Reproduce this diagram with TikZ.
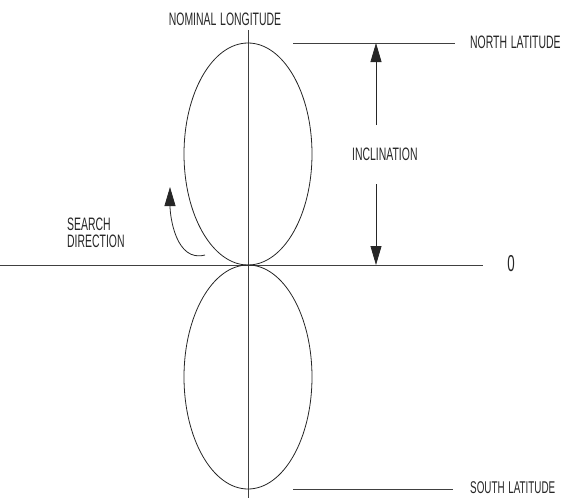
\documentclass[tikz,border=0pt]{standalone}
\usepackage{fontspec}
\setmainfont[FakeStretch=0.58, WordSpace=1.3]{Liberation Sans}
\usetikzlibrary{arrows.meta,positioning}

\begin{document}
\begin{tikzpicture}[
  x=1pt, y=-1pt,
  every node/.style={font=\fontsize{18}{20}\selectfont, text=black!85, inner sep=0pt},
  axis/.style={draw=black!75, line width=0.9pt},
  orbit/.style={draw=black!85, line width=0.8pt},
  dim/.style={draw=black!85, line width=0.8pt, -{Triangle[length=19pt, width=11pt]}}
]
  \useasboundingbox (0,0) rectangle (571,498);

  % Axes
  \coordinate (vtop) at (248,30);
  \coordinate (vbot) at (248,498);
  \coordinate (hleft) at (0,265);
  \coordinate (hright) at (483,265);
  \draw[axis] (vtop) -- (vbot);
  \draw[axis] (hleft) -- (hright);
  \node[font=\fontsize{23}{25}\selectfont] (zero) at (511,264) {0};
  \node (nomlong) at (225,19) {NOMINAL LONGITUDE};

  % Latitude limits
  \coordinate (nl) at (293,43);
  \coordinate (nr) at (455,43);
  \coordinate (sl) at (293,489);
  \coordinate (sr) at (453,489);
  \draw[axis] (nl) -- (nr);
  \draw[axis] (sl) -- (sr);
  \node[anchor=west] (north) at (470,42) {NORTH LATITUDE};
  \node[anchor=west, font=\fontsize{17}{19}\selectfont] (south) at (470,488) {SOUTH LATITUDE};

  % Lobes
  \draw[orbit] (248,154) ellipse [x radius=64, y radius=111];
  \draw[orbit] (248,377) ellipse [x radius=64, y radius=112];

  % Inclination
  \node[anchor=west] (incl) at (352,154) {INCLINATION};
  \coordinate (itop) at (376,43);
  \coordinate (ibot) at (376,265);
  \draw[dim] (376,125) -- (itop);
  \draw[dim] (376,184) -- (ibot);

  % Search direction
  \node[align=left, anchor=west] (search) at (67,233) {SEARCH\\[-2.5pt]DIRECTION};
  \coordinate (sstart) at (205,255);
  \coordinate (stip) at (170,187);
  \draw[dim] (sstart) to[out=195, in=-90] (stip);
\end{tikzpicture}
\end{document}
